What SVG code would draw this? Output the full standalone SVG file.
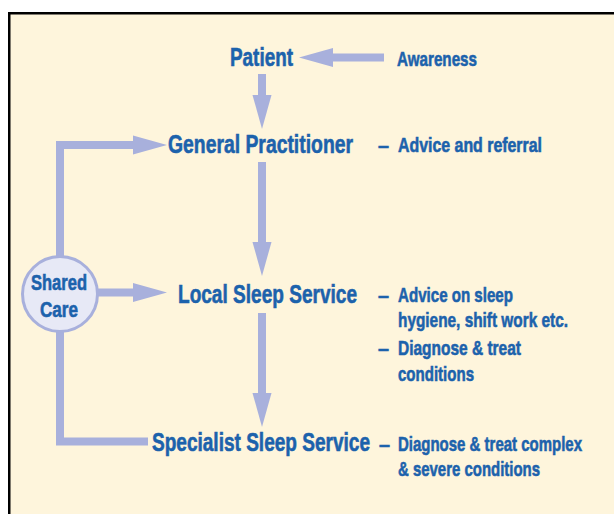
<svg xmlns="http://www.w3.org/2000/svg" width="614" height="514" viewBox="0 0 614 514">
  <defs>
    <!-- solid triangular head, placed at the end of a shaft -->
    <marker id="head" markerUnits="userSpaceOnUse" markerWidth="35" markerHeight="20" refX="0" refY="9.5" orient="auto" overflow="visible">
      <path d="M0,0 L34,9.5 L0,19 Z" fill="#A8B0DC"/>
    </marker>
    <style>
      text { font-family: "Liberation Sans", Arial, sans-serif; font-weight: bold; fill: #1C62AC; stroke: #1C62AC; stroke-width: 0.6; }
      .main { font-size: 26px; }
      .note { font-size: 21px; }
      .circ { font-size: 22px; text-anchor: middle; }
      .shaft { fill: none; stroke: #A8B0DC; stroke-width: 8; stroke-linejoin: miter; }
    </style>
  </defs>

  <!-- page and framed panel -->
  <rect x="0" y="0" width="614" height="514" fill="#FFFFFF"/>
  <rect x="9.25" y="13.25" width="620" height="520" fill="#FEF5DC" stroke="#000000" stroke-width="2.5"/>

  <!-- connectors -->
  <g id="connectors">
    <line class="shaft" x1="384" y1="57.5" x2="333" y2="57.5" marker-end="url(#head)"/>
    <line class="shaft" x1="262" y1="74" x2="262" y2="95" marker-end="url(#head)"/>
    <line class="shaft" x1="262" y1="162" x2="262" y2="242" marker-end="url(#head)"/>
    <line class="shaft" x1="262" y1="313" x2="262" y2="393" marker-end="url(#head)"/>
    <polyline class="shaft" points="60,258 60,145 133,145" marker-end="url(#head)"/>
    <line class="shaft" x1="97" y1="292.5" x2="133" y2="292.5" marker-end="url(#head)"/>
    <polyline class="shaft" points="60,330 60,441.5 148,441.5"/>
  </g>

  <!-- labels are set in a narrowed face: x positions are in the 0.75-wide frame -->
  <g id="patient" transform="scale(0.75,1)">
    <text class="main" x="306.67" y="66" textLength="84" lengthAdjust="spacingAndGlyphs">Patient</text>
  </g>
  <g id="awareness" transform="scale(0.75,1)">
    <text class="note" x="529.33" y="66" textLength="106.67" lengthAdjust="spacingAndGlyphs">Awareness</text>
  </g>

  <g id="general-practitioner" transform="scale(0.75,1)">
    <text class="main" x="224" y="153" textLength="246.67" lengthAdjust="spacingAndGlyphs">General Practitioner</text>
    <text class="note" x="504" y="152" textLength="14.67" lengthAdjust="spacingAndGlyphs">–</text>
    <text class="note" x="530.67" y="152" textLength="192" lengthAdjust="spacingAndGlyphs">Advice and referral</text>
  </g>

  <g id="local-sleep-service" transform="scale(0.75,1)">
    <text class="main" x="237.33" y="303" textLength="238.67" lengthAdjust="spacingAndGlyphs">Local Sleep Service</text>
    <text class="note" x="504" y="302" textLength="14.67" lengthAdjust="spacingAndGlyphs">–</text>
    <text class="note" x="530.67" y="302" textLength="153.33" lengthAdjust="spacingAndGlyphs">Advice on sleep</text>
    <text class="note" x="530.67" y="327" textLength="226.67" lengthAdjust="spacingAndGlyphs">hygiene, shift work etc.</text>
    <text class="note" x="504" y="355" textLength="14.67" lengthAdjust="spacingAndGlyphs">–</text>
    <text class="note" x="530.67" y="355" textLength="164" lengthAdjust="spacingAndGlyphs">Diagnose &amp; treat</text>
    <text class="note" x="530.67" y="381" textLength="101.33" lengthAdjust="spacingAndGlyphs">conditions</text>
  </g>

  <g id="specialist-sleep-service" transform="scale(0.75,1)">
    <text class="main" x="202.67" y="451" textLength="290.67" lengthAdjust="spacingAndGlyphs">Specialist Sleep Service</text>
    <text class="note" x="505.33" y="451" textLength="14.67" lengthAdjust="spacingAndGlyphs">–</text>
    <text class="note" x="530.67" y="451.5" textLength="245.33" lengthAdjust="spacingAndGlyphs">Diagnose &amp; treat complex</text>
    <text class="note" x="530.67" y="476.5" textLength="189.33" lengthAdjust="spacingAndGlyphs">&amp; severe conditions</text>
  </g>

  <g id="shared-care">
    <circle cx="60" cy="294" r="37.5" fill="#E7E9F6" stroke="#A8B0DC" stroke-width="3"/>
    <g transform="scale(0.75,1)">
      <text class="circ" x="78.67" y="290" textLength="74.67" lengthAdjust="spacingAndGlyphs">Shared</text>
      <text class="circ" x="78.67" y="317" textLength="50.67" lengthAdjust="spacingAndGlyphs">Care</text>
    </g>
  </g>
</svg>
